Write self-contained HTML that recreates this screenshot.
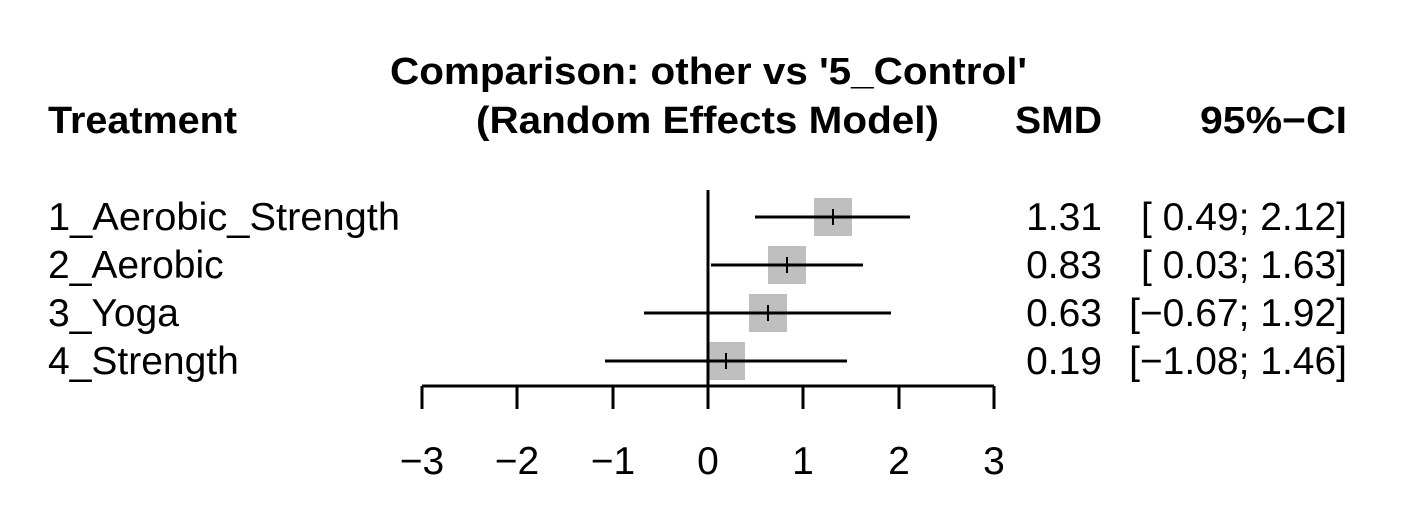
<!DOCTYPE html>
<html><head><style>body{margin:0;background:#fff}</style></head><body>
<svg width="1402" height="515" xmlns="http://www.w3.org/2000/svg" font-family="Liberation Sans, Arial, sans-serif">
<rect width="1402" height="515" fill="#fff"/>
<g font-weight="bold" font-size="38">
<text x="390" y="84" textLength="637" lengthAdjust="spacingAndGlyphs">Comparison: other vs '5_Control'</text>
<text x="476" y="133" textLength="463" lengthAdjust="spacingAndGlyphs">(Random Effects Model)</text>
<text x="48" y="133" textLength="189" lengthAdjust="spacingAndGlyphs">Treatment</text>
<text x="1015" y="133" textLength="87" lengthAdjust="spacingAndGlyphs">SMD</text>
<text x="1200" y="133" textLength="147" lengthAdjust="spacingAndGlyphs">95%−CI</text>
</g>
<g font-size="39">
<text x="48" y="230" textLength="352" lengthAdjust="spacingAndGlyphs">1_Aerobic_Strength</text>
<text x="48" y="278">2_Aerobic</text>
<text x="48" y="326">3_Yoga</text>
<text x="48" y="374">4_Strength</text>
<g text-anchor="end">
<text x="1102" y="230">1.31</text><text x="1347" y="230">[ 0.49; 2.12]</text>
<text x="1102" y="278">0.83</text><text x="1347" y="278">[ 0.03; 1.63]</text>
<text x="1102" y="326">0.63</text><text x="1347" y="326">[−0.67; 1.92]</text>
<text x="1102" y="374">0.19</text><text x="1347" y="374">[−1.08; 1.46]</text>
</g>
</g>
<g fill="#bfbfbf">
<rect x="814" y="198" width="38" height="38"/>
<rect x="768" y="246" width="38" height="38"/>
<rect x="749" y="294" width="38" height="38"/>
<rect x="707" y="342" width="38" height="38"/>
</g>
<g stroke="#000" stroke-width="3">
<line x1="708" y1="190" x2="708" y2="386"/>
<line x1="755" y1="217" x2="910" y2="217"/><line x1="833" y1="209" x2="833" y2="225" stroke-width="2"/>
<line x1="711" y1="265" x2="863" y2="265"/><line x1="787" y1="257" x2="787" y2="273" stroke-width="2"/>
<line x1="644" y1="313" x2="891" y2="313"/><line x1="768" y1="305" x2="768" y2="321" stroke-width="2"/>
<line x1="605" y1="361" x2="847" y2="361"/><line x1="726" y1="353" x2="726" y2="369" stroke-width="2"/>
<line x1="422" y1="386" x2="994" y2="386"/>
<line x1="422" y1="386" x2="422" y2="409"/><line x1="517" y1="386" x2="517" y2="409"/>
<line x1="613" y1="386" x2="613" y2="409"/><line x1="708" y1="386" x2="708" y2="409"/>
<line x1="803" y1="386" x2="803" y2="409"/><line x1="899" y1="386" x2="899" y2="409"/>
<line x1="994" y1="386" x2="994" y2="409"/>
</g>
<g font-size="39" text-anchor="middle">
<text x="422" y="474">−3</text><text x="517" y="474">−2</text><text x="613" y="474">−1</text>
<text x="708" y="474">0</text><text x="803" y="474">1</text><text x="899" y="474">2</text><text x="994" y="474">3</text>
</g>
</svg>
</body></html>
